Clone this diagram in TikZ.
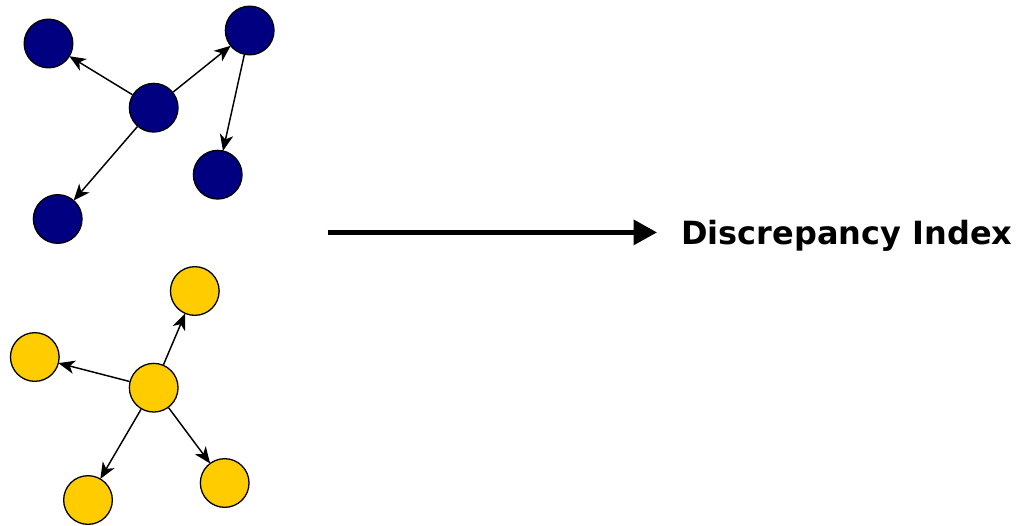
\documentclass[tikz,border=0pt]{standalone}
\usepackage{fontspec}
\setmainfont{DejaVu Sans}
\usetikzlibrary{arrows.meta}
\definecolor{navyfill}{HTML}{000080}
\definecolor{goldfill}{HTML}{FFCC00}
\tikzset{
  vert/.style={circle, draw=black, line width=1.1pt, minimum size=1.46cm, inner sep=0pt},
  bluevert/.style={vert, fill=navyfill},
  goldvert/.style={vert, fill=goldfill},
  edge/.style={line width=1.25pt, -{Stealth[length=14pt, width=11.5pt, inset=4pt]}, shorten >=-0.5pt},
  bigarrow/.style={line width=3.9pt, -{Triangle[length=20pt, width=21pt]}},
  label/.style={font=\bfseries\fontsize{27.3}{30}\selectfont, anchor=base west, inner sep=0pt}
}
\begin{document}
\begin{tikzpicture}[x=0.03cm, y=-0.03cm]
  \useasboundingbox (0,0) rectangle (1017,525);

  % upper graph
  \node[bluevert] (a) at (153.7,107.7) {};
  \node[bluevert] (b) at (48.5,43.5) {};
  \node[bluevert] (c) at (249.7,30.5) {};
  \node[bluevert] (d) at (217.7,174.7) {};
  \node[bluevert] (e) at (57.7,219) {};
  \draw[edge] (a) -- (b);
  \draw[edge] (a) -- (c);
  \draw[edge] (c) -- (d);
  \draw[edge] (a) -- (e);

  % lower graph
  \node[goldvert] (f) at (153.7,387.7) {};
  \node[goldvert] (g) at (194.8,291) {};
  \node[goldvert] (h) at (34.8,357) {};
  \node[goldvert] (i) at (88,500) {};
  \node[goldvert] (j) at (224.7,483) {};
  \draw[edge] (f) -- (g);
  \draw[edge] (f) -- (h);
  \draw[edge] (f) -- (i);
  \draw[edge] (f) -- (j);

  % result
  \coordinate (s) at (327.5,232.4);
  \coordinate (t) at (657,232.4);
  \draw[bigarrow] (s) -- (t);
  \node[label] (idx) at (681,244.3) {Discrepancy Index};
\end{tikzpicture}
\end{document}
